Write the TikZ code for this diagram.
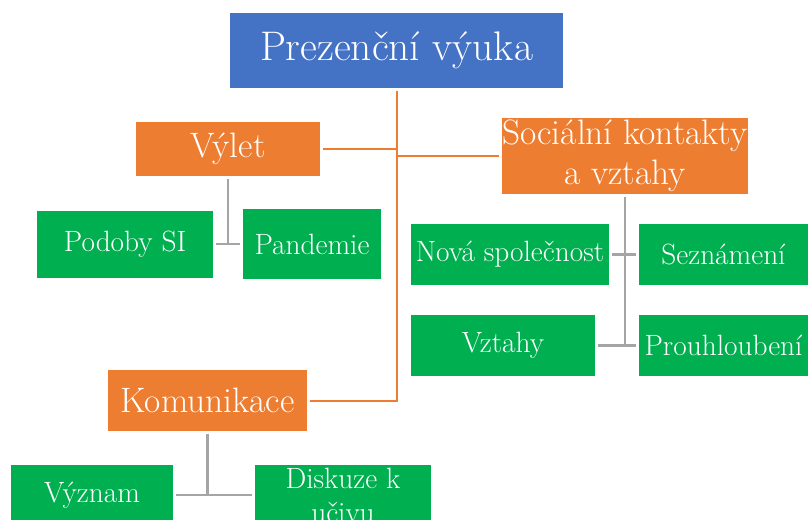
\documentclass[tikz,border=0pt]{standalone}
\usepackage{fontspec}
\usepackage{xcolor}

\definecolor{topblue}{HTML}{4472C4}
\definecolor{catorange}{HTML}{ED7D31}
\definecolor{leafgreen}{HTML}{00B050}
\definecolor{linkgrey}{HTML}{A5A5A5}

\begin{document}
\begin{tikzpicture}[x=0.75pt,y=-0.75pt,
    box/.style 2 args={rectangle,inner sep=0pt,outer sep=2pt,text=white,align=center,minimum width=#1*0.75pt,minimum height=#2*0.75pt},
    top node/.style={fill=topblue,font=\fontsize{31}{34}\selectfont},
    cat node/.style={fill=catorange,font=\fontsize{26.5}{30}\selectfont},
    leaf node/.style={fill=leafgreen,font=\fontsize{22}{25.5}\selectfont},
    main link/.style={draw=catorange,line width=1.5pt},
    sub link/.style={draw=linkgrey,line width=2.2pt}]

    \clip (0,0) rectangle (809,519);

    \node[top node, box={333}{75}] (top) at (396.5,50.5) {Prezenční výuka};

    \node[cat node, box={184}{54}] (vylet) at (228,149) {Výlet};
    \node[cat node, box={246}{76}] (soc) at (625,156) {Sociální kontakty\\a vztahy};
    \node[cat node, box={199}{61}] (kom) at (207.5,400.5) {Komunikace};

    \node[leaf node, box={176}{67}] (podoby) at (125,244) {Podoby SI};
    \node[leaf node, box={138}{70}] (pandemie) at (312,244) {Pandemie};
    \node[leaf node, box={198}{61}] (nova) at (510,254.5) {Nová společnost};
    \node[leaf node, box={169}{61}] (sezn) at (723.5,254.5) {Seznámení};
    \node[leaf node, box={184}{61}] (vztahy) at (503,345.5) {Vztahy};
    \node[leaf node, box={169}{61}] (prohl) at (723.5,345.5) {Prouhloubení};
    \node[leaf node, box={162}{60}] (vyznam) at (92,495) {Význam};
    \node[leaf node, box={176}{60}] (diskuze) at (343,495) {Diskuze k\\učivu};

    % trunk
    \draw[main link] (top.south) -- (top.south |- kom.east) -- (kom.east);
    \draw[main link] (vylet.east) -- (vylet.east -| top.south);
    \draw[main link] (soc.west) -- (soc.west -| top.south);

    % branches
    \draw[sub link] (vylet.south) -- (vylet.south |- podoby.east);
    \draw[sub link] (podoby.east) -- (pandemie.west);
    \draw[sub link] (soc.south) -- (soc.south |- vztahy.east);
    \draw[sub link] (nova.east) -- (sezn.west);
    \draw[sub link] (vztahy.east) -- (prohl.west);
    \draw[sub link] (kom.south) -- (kom.south |- vyznam.east);
    \draw[sub link] (vyznam.east) -- (diskuze.west);
\end{tikzpicture}
\end{document}
